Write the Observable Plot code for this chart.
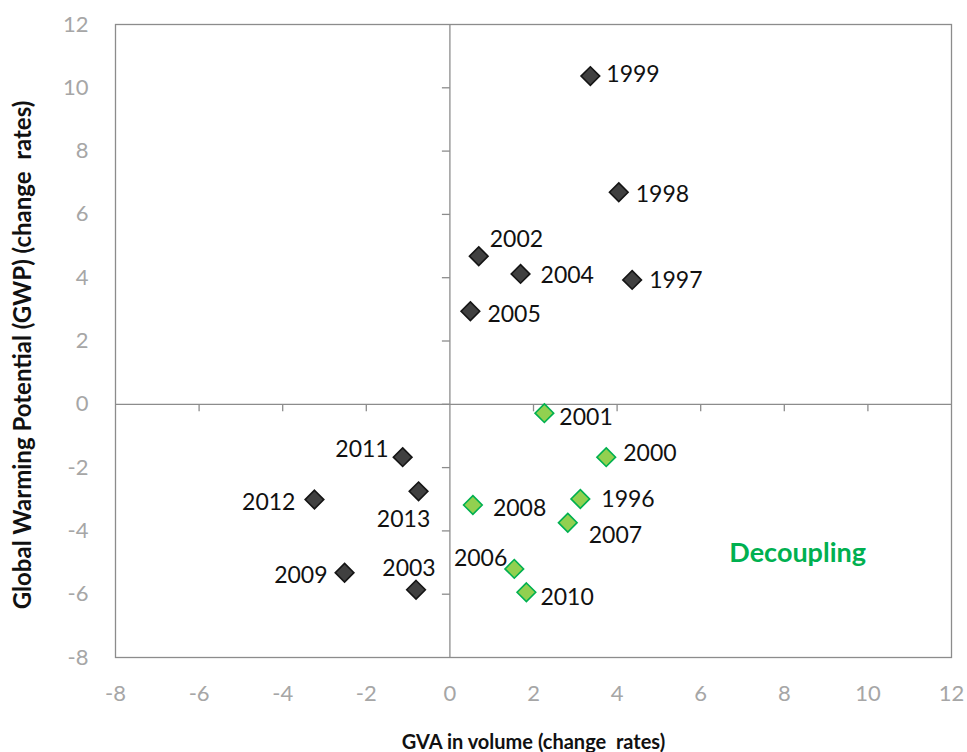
<!DOCTYPE html>
<html>
<head>
<meta charset="utf-8">
<script src="https://cdn.jsdelivr.net/npm/d3@7"></script>
<script src="https://cdn.jsdelivr.net/npm/@observablehq/plot@0.6"></script>
<style>
  html, body { margin: 0; padding: 0; background: #fff; }
  #chart svg { display: block; }
</style>
</head>
<body>
<div id="chart"></div>
<script>
// ---- data ----
const years = ["1999","1998","2002","2004","1997","2005","2001","2000","1996","2008","2007","2006","2010","2011","2013","2012","2009","2003"];
const gva   = [3.36, 4.04, 0.69, 1.69, 4.36, 0.49, 2.26, 3.74, 3.12, 0.55, 2.82, 1.54, 1.83, -1.13, -0.75, -3.24, -2.52, -0.81];
const gwp   = [10.37, 6.70, 4.68, 4.12, 3.93, 2.94, -0.28, -1.67, -2.99, -3.18, -3.74, -5.20, -5.94, -1.67, -2.75, -3.01, -5.32, -5.86];
const group = ["coupled","coupled","coupled","coupled","coupled","coupled","decoupling","decoupling","decoupling","decoupling","decoupling","decoupling","decoupling","coupled","coupled","coupled","coupled","coupled"];
const xTicks = [-8, -6, -4, -2, 0, 2, 4, 6, 8, 10, 12];
const yTicks = [-8, -6, -4, -2, 0, 2, 4, 6, 8, 10, 12];
const xTitle = "GVA in volume (change  rates)";
const yTitle = "Global Warming Potential (GWP) (change  rates)";
const annotationText = ["Decoupling"];
const annotationX = [8.32];
const annotationY = [-4.71];

// ---- label placement (layout only) ----
const labelPlacement = {
  "1999": ["start", 16, -1], "1998": ["start", 17, 2], "2002": ["start", 11, -17],
  "2004": ["start", 20, 2], "1997": ["start", 17, 1], "2005": ["start", 17, 3],
  "2001": ["start", 15, 4], "2000": ["start", 17, -4], "1996": ["start", 21, 1],
  "2008": ["start", 20, 4], "2007": ["start", 21, 13], "2006": ["end", -7, -10],
  "2010": ["start", 14, 5], "2011": ["end", -14, -8], "2013": ["middle", -15, 28],
  "2012": ["end", -19, 3], "2009": ["end", -17, 3], "2003": ["middle", -7, -21]
};

const points = years.map((y, i) => ({year: y, x: gva[i], y: gwp[i], group: group[i]}));
const annotations = annotationText.map((t, i) => ({text: t, x: annotationX[i], y: annotationY[i]}));

const gridGray = "#8c8c8c";
const tickGray = "#a6a6a6";
const font = "Lato, 'Open Sans', sans-serif";

const tickLeft = { draw(ctx) { ctx.moveTo(-8, 0); ctx.lineTo(0, 0); } };
const tickDown = { draw(ctx) { ctx.moveTo(0, 0); ctx.lineTo(0, 7); } };

const labelMarks = ["start", "end", "middle"].map(anchor => {
  const subset = points.filter(p => labelPlacement[p.year][0] === anchor);
  return subset.map(p => Plot.text([p], {
    x: "x", y: "y", text: "year",
    textAnchor: anchor,
    lineAnchor: "middle",
    dx: labelPlacement[p.year][1],
    dy: labelPlacement[p.year][2],
    fontSize: 23, fill: "#111"
  }));
}).flat();

const plot = Plot.plot({
  width: 967,
  height: 752,
  marginTop: 24,
  marginBottom: 95,
  marginLeft: 115,
  marginRight: 16,
  style: { fontFamily: font, background: "#fff" },
  x: { domain: [-8, 12] },
  y: { domain: [-8, 12] },
  marks: [
    Plot.frame({ stroke: gridGray, strokeWidth: 1.3 }),
    Plot.ruleX([0], { stroke: gridGray, strokeWidth: 1.3 }),
    Plot.ruleY([0], { stroke: gridGray, strokeWidth: 1.3 }),
    Plot.dot(yTicks.filter(v => v > -8 && v < 12), { x: () => 0, y: d => d, symbol: tickLeft, r: 5, stroke: gridGray, strokeWidth: 1.3, fill: "none" }),
    Plot.dot(xTicks.filter(v => v > -8 && v < 12 && v !== 0), { x: d => d, y: () => 0, symbol: tickDown, r: 5, stroke: gridGray, strokeWidth: 1.3, fill: "none" }),
    Plot.axisX({ ticks: xTicks, tickSize: 0, tickPadding: 28, tickFormat: d => String(d), fontSize: 22, color: tickGray, label: null }),
    Plot.axisY({ ticks: yTicks, tickSize: 0, tickPadding: 27, tickFormat: d => String(d), fontSize: 22, color: tickGray, label: null }),
    Plot.dot(points, {
      x: "x", y: "y", symbol: "diamond2", r: 8.4,
      fill: d => d.group === "decoupling" ? "#92d050" : "#404040",
      stroke: d => d.group === "decoupling" ? "#00b050" : "#151515",
      strokeWidth: 1.6
    }),
    ...labelMarks,
    Plot.text(annotations, { x: "x", y: "y", text: "text", fontSize: 27, fontWeight: "bold", fill: "#00b050", lineAnchor: "middle" }),
    Plot.text([xTitle], { frameAnchor: "bottom", dy: 85, textAnchor: "middle", fontSize: 20, fontWeight: "bold", fill: "#111", lineAnchor: "middle" }),
    Plot.text([yTitle], { frameAnchor: "left", dx: -92, dy: 14, rotate: -90, textAnchor: "middle", fontSize: 24, fontWeight: "bold", fill: "#111", lineAnchor: "middle" })
  ]
});

document.getElementById("chart").appendChild(plot);
</script>
</body>
</html>
